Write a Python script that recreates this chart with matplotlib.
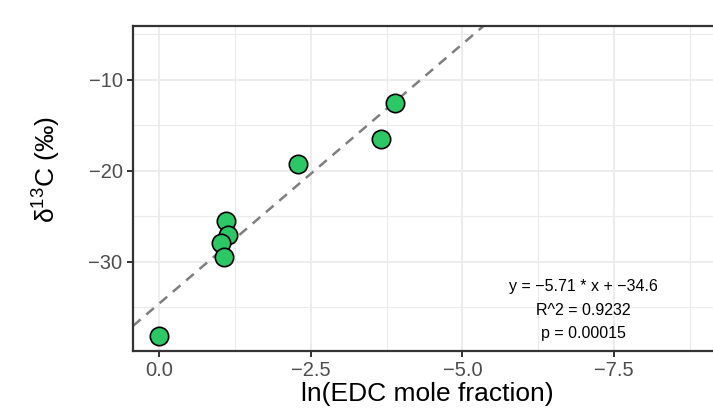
import numpy as np
import matplotlib
matplotlib.use("Agg")
import matplotlib.pyplot as plt
from matplotlib.ticker import MultipleLocator, FixedLocator

plt.rcParams['font.family'] = ['Liberation Sans', 'DejaVu Sans']

# data
ln_edc = [0.0, -1.10, -1.14, -1.02, -1.07, -2.29, -3.66, -3.89]
d13c = [-38.2, -25.5, -27.0, -27.9, -29.5, -19.2, -16.5, -12.5]
slope = -5.71
intercept = -34.6
x_ticks = [0.0, -2.5, -5.0, -7.5]
fit_text = ["y = \u22125.71 * x + \u221234.6", "R^2 = 0.9232", "p = 0.00015"]

fig = plt.figure(figsize=(7.13, 4.16), dpi=100)
# panel runs just past the right edge like the reference crop
ax = fig.add_axes([133/713, 65/416, 588/713, 325/416])

ax.set_xlim(0.428, -9.26)
ax.set_ylim(-39.8, -4.07)
ax.xaxis.set_major_locator(FixedLocator(x_ticks))
ax.xaxis.set_minor_locator(MultipleLocator(1.25))
ax.yaxis.set_major_locator(MultipleLocator(10))
ax.yaxis.set_minor_locator(MultipleLocator(5))

ax.grid(which='major', color='#EBEBEB', lw=1.3, zorder=0)
ax.grid(which='minor', color='#EBEBEB', lw=0.8, zorder=0)
ax.set_axisbelow(True)

xs = np.array([0.428, -9.26])
ax.plot(xs, slope * xs + intercept, ls=(0, (4, 3)), color='#7F7F7F', lw=1.8, zorder=2)
ax.scatter(ln_edc, d13c, s=175, color='#2DC866', edgecolor='black', lw=1.2, zorder=3)

ax.text(-6.99, -35.3, "\n".join(fit_text), ha='center', va='center', fontsize=11.5,
        linespacing=1.72, color='black')

for s in ax.spines.values():
    s.set_color('#333333')
    s.set_linewidth(1.6)
ax.tick_params(which='major', length=4.5, width=1.4, color='#333333', labelsize=14.5,
               labelcolor='#4D4D4D', pad=3)
ax.tick_params(which='minor', length=0)

ax.xaxis.set_major_formatter(lambda v, p: f"{v:.1f}".replace('-', '\u2212'))
ax.yaxis.set_major_formatter(lambda v, p: f"{v:.0f}".replace('-', '\u2212'))

ax.set_xlabel("ln(EDC mole fraction)", fontsize=19, labelpad=1)
ax.set_ylabel("$\\mathregular{\u03b4^{13}}$C (\u2030)", fontsize=19)
ax.yaxis.set_label_coords(-0.119, 0.557)

fig.savefig("out.png", dpi=100)
